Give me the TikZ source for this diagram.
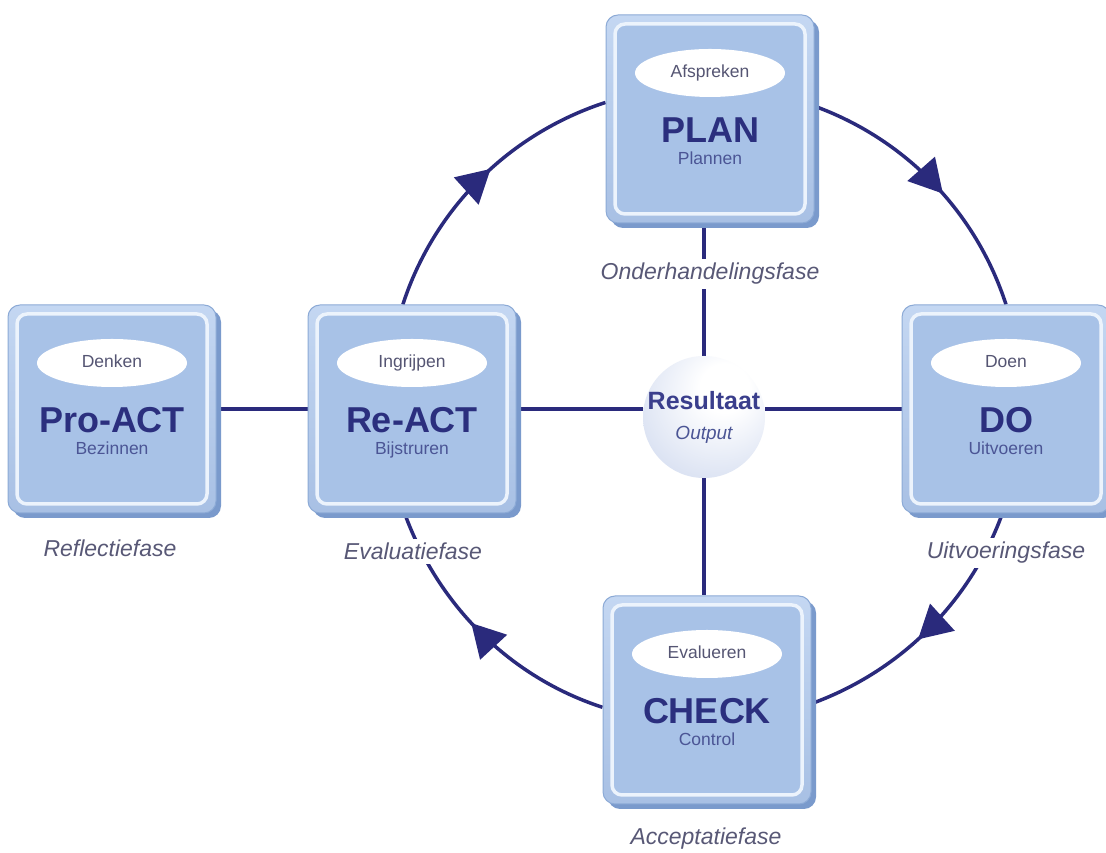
\documentclass[tikz,border=0pt]{standalone}
\usepackage{fontspec}
\setmainfont{Liberation Sans}
\usetikzlibrary{arrows.meta,decorations.markings,shapes.geometric,calc}
\definecolor{navy}{RGB}{42,42,124}
\definecolor{titlenavy}{RGB}{43,47,126}
\definecolor{subblue}{RGB}{75,85,149}
\definecolor{ovalgray}{RGB}{85,85,115}
\definecolor{phasegray}{RGB}{88,88,118}
\definecolor{boxdark}{RGB}{122,154,204}
\definecolor{boxlight}{RGB}{196,215,242}
\definecolor{boxmid}{RGB}{168,192,228}
\definecolor{boxedge}{RGB}{140,170,214}
\definecolor{boxface}{RGB}{168,194,231}
\definecolor{boxring}{RGB}{236,243,252}
\definecolor{ballmid}{RGB}{206,216,238}
\definecolor{ballrim}{RGB}{150,172,214}
\pgfdeclarelayer{background}
\pgfsetlayers{background,main}
\pgfdeclareradialshading{resball}{\pgfpoint{10bp}{14bp}}{color(0bp)=(white); color(10bp)=(white); color(42bp)=(ballmid); color(66bp)=(ballrim)}
\tikzset{
  boxshade/.style={rectangle, rounded corners=12pt, minimum width=208pt, minimum height=208pt, inner sep=0pt, fill=boxdark},
  outerbox/.style={rectangle, rounded corners=12pt, minimum width=208pt, minimum height=208pt, inner sep=0pt, top color=boxlight, bottom color=boxmid, draw=boxedge, line width=1pt},
  innerbox/.style={rectangle, rounded corners=10pt, minimum width=190pt, minimum height=190pt, inner sep=0pt, fill=boxface, draw=boxring, line width=3.5pt},
  ovalbox/.style={ellipse, minimum width=150pt, minimum height=48pt, inner sep=0pt, fill=white},
  ovaltext/.style={anchor=base, inner sep=0pt, text=ovalgray, font=\fontsize{17.5}{18}\selectfont},
  titletext/.style={anchor=base, inner sep=0pt, text=titlenavy, font=\fontsize{36}{40}\selectfont\bfseries},
  subtext/.style={anchor=base, inner sep=0pt, text=subblue, font=\fontsize{17.5}{18}\selectfont},
  phase/.style={anchor=base, fill=white, inner sep=4pt, text=phasegray, font=\fontsize{23}{24}\selectfont\itshape},
  link/.style={draw=navy, line width=3.5pt},
  flow/.style={draw=navy, line width=3.5pt, postaction={decorate},
    decoration={markings, mark=at position 0.55 with {\arrow[navy]{Triangle[length=33pt,width=36pt]}}}},
  resnode/.style={circle, minimum size=122pt, inner sep=0pt, shade, shading=resball},
}
\newcommand\phasebox[6]{%
  \node[boxshade] (#1-sh) at (#2+5,#3-5) {};
  \node[outerbox] (#1) at (#2,#3) {};
  \node[innerbox] (#1-in) at (#2,#3) {};
  \node[ovalbox] (#1-ov) at (#2,#3+46) {};
  \node[ovaltext] (#1-ot) at (#2,#3+41) {#4};
  \node[titletext] (#1-t) at (#2,#3-24) {#5};
  \node[subtext] (#1-st) at (#2,#3-46) {#6};
}
\begin{document}
\begin{tikzpicture}[x=1pt,y=1pt]
\useasboundingbox (0,0) rectangle (1106,853);

\phasebox{plan}{710}{734}{Afspreken}{PLAN}{Plannen}
\phasebox{proact}{112}{444}{Denken}{Pro-ACT}{Bezinnen}
\phasebox{react}{412}{444}{Ingrijpen}{Re-ACT}{Bijstruren}
\phasebox{do}{1006}{444}{Doen}{DO}{Uitvoeren}
\phasebox{check}{707}{153}{Evalueren}{CHECK}{Control}

\node[resnode] (res) at (704,436) {};
\node[anchor=base, inner sep=0pt, text={rgb,255:red,58;green,62;blue,140}, font=\fontsize{25}{26}\selectfont\bfseries] (res-t) at (704,443) {Resultaat};
\node[anchor=base, inner sep=0pt, text=subblue, font=\fontsize{19}{20}\selectfont\itshape] (res-s) at (704,413) {Output};

\node[phase] (ph-onder) at (710,573) {Onderhandelingsfase};
\node[phase] (ph-refl) at (110,296) {Reflectiefase};
\node[phase] (ph-eval) at (413,293) {Evaluatiefase};
\node[phase] (ph-uitv) at (1006,294) {Uitvoeringsfase};
\node[phase] (ph-acc) at (706,8) {Acceptatiefase};

\begin{pgfonlayer}{background}
\fill[white] (0,0) rectangle (1106,853);
\draw[link] (proact.east) -- (react.west);
\draw[link] (react.east) -- (react.east -| res.west);
\draw[link] (do.west) -- (do.west -| res.east);
\draw[link] (plan.south -| res.north) -- (res.north);
\draw[link] (res.south) -- (res.south |- check.north);
\draw[flow] (plan.7) to[out=-20, in=108, looseness=0.9] (do.90);
\draw[flow] (do.268) to[out=-110, in=20, looseness=0.9] (check.-2);
\draw[flow] (check.184) to[out=162, in=-70, looseness=0.9] (react.266);
\draw[flow] (react.95) to[out=72, in=198, looseness=0.9] (plan.171);
\end{pgfonlayer}
\end{tikzpicture}
\end{document}
